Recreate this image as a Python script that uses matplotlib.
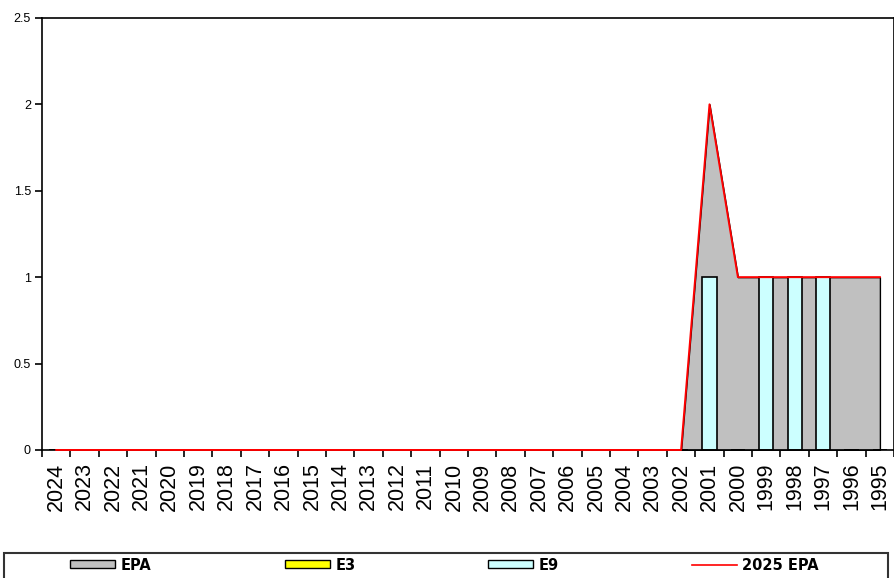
import matplotlib
matplotlib.use("Agg")
import matplotlib.pyplot as plt
import numpy as np

# ── data ──────────────────────────────────────────────
years = ["2024", "2023", "2022", "2021", "2020", "2019", "2018", "2017",
         "2016", "2015", "2014", "2013", "2012", "2011", "2010", "2009",
         "2008", "2007", "2006", "2005", "2004", "2003", "2002", "2001",
         "2000", "1999", "1998", "1997", "1996", "1995"]

epa = [0, 0, 0, 0, 0, 0, 0, 0, 0, 0, 0, 0, 0, 0, 0, 0,
       0, 0, 0, 0, 0, 0, 0, 2, 1, 1, 1, 1, 1, 1]
e3 = [0, 0, 0, 0, 0, 0, 0, 0, 0, 0, 0, 0, 0, 0, 0, 0,
      0, 0, 0, 0, 0, 0, 0, 0, 0, 0, 0, 0, 0, 0]
e9 = [0, 0, 0, 0, 0, 0, 0, 0, 0, 0, 0, 0, 0, 0, 0, 0,
      0, 0, 0, 0, 0, 0, 0, 1, 0, 1, 1, 1, 0, 0]
epa_2025 = [0, 0, 0, 0, 0, 0, 0, 0, 0, 0, 0, 0, 0, 0, 0, 0,
            0, 0, 0, 0, 0, 0, 0, 2, 1, 1, 1, 1, 1, 1]

y_ticks = [0, 0.5, 1, 1.5, 2, 2.5]
y_labels = ["0", "0.5", "1", "1.5", "2", "2.5"]

COLOR_EPA = "#c0c0c0"
COLOR_E3 = "#ffff00"
COLOR_E9 = "#ccffff"
COLOR_LINE = "#ff0000"

# ── plot ──────────────────────────────────────────────
plt.rcParams["font.family"] = ["Liberation Sans", "DejaVu Sans"]

fig = plt.figure(figsize=(8.95, 5.78), dpi=100)
ax = fig.add_axes([0.047, 0.2215, 0.952, 0.7475])

x = np.arange(len(years))

# area (EPA)
ax.fill_between(x, epa, 0, color=COLOR_EPA, edgecolor="black",
                linewidth=1.0, zorder=1)

# bars (E3, E9)
ax.bar(x, e3, width=0.5, color=COLOR_E3, edgecolor="black",
       linewidth=1.2, zorder=2)
ax.bar(x, e9, width=0.5, color=COLOR_E9, edgecolor="black",
       linewidth=1.2, zorder=2)

# line (2025 EPA)
ax.plot(x, epa_2025, color=COLOR_LINE, linewidth=1.4, zorder=4,
        clip_on=False)

ax.set_xlim(-0.5, len(years) - 0.5)
ax.set_ylim(0, 2.5)

ax.set_yticks(y_ticks)
ax.set_yticklabels(y_labels, fontsize=9)

# ticks between categories, labels centred
ax.set_xticks(np.arange(-0.5, len(years), 1.0))
ax.set_xticklabels([])
ax.set_xticks(x, minor=True)
ax.set_xticklabels(years, minor=True, rotation=90, fontsize=15.5)
ax.tick_params(axis="x", which="minor", length=0, pad=9)
ax.tick_params(axis="x", which="major", length=5, width=1.2,
               direction="out")
ax.tick_params(axis="y", length=5, width=1.2, direction="out", pad=3)

for s in ax.spines.values():
    s.set_linewidth(1.2)
    s.set_color("black")

# legend box
fig.patches.append(plt.Rectangle(
    (4 / 895, -0.05), 884 / 895, 0.05 + (578 - 553) / 578,
    transform=fig.transFigure, facecolor="none", edgecolor="#333333",
    linewidth=1.5, clip_on=False,
))

# legend entries
handles = [
    plt.Rectangle((0, 0), 1, 1, facecolor=COLOR_EPA, edgecolor="black",
                  linewidth=1.0),
    plt.Rectangle((0, 0), 1, 1, facecolor=COLOR_E3, edgecolor="black",
                  linewidth=1.0),
    plt.Rectangle((0, 0), 1, 1, facecolor=COLOR_E9, edgecolor="black",
                  linewidth=1.0),
    plt.Line2D([0], [0], color=COLOR_LINE, linewidth=1.2),
]
labels = ["EPA", "E3", "E9", "2025 EPA"]
starts = [70, 285, 488, 692]

for h, lab, sx in zip(handles, labels, starts):
    fig.legend(
        [h], [lab],
        loc="center left",
        bbox_to_anchor=(sx / 895, 1 - 565 / 578),
        frameon=False,
        handlelength=3.1,
        handleheight=0.45,
        handletextpad=0.35,
        borderpad=0.0,
        borderaxespad=0.0,
        prop={"family": "DejaVu Sans", "weight": "bold", "size": 10.5},
    )

fig.savefig("out.png", dpi=100)
